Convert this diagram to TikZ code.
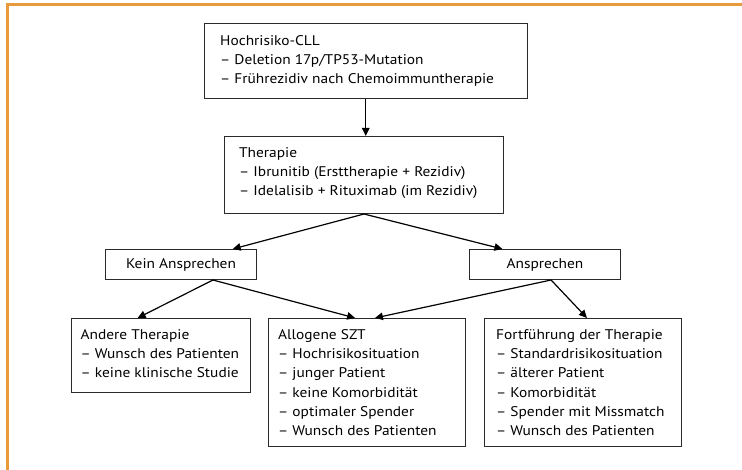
\documentclass[tikz,border=0pt]{standalone}
\usepackage{fontspec}
\setmainfont{PT Sans}[FakeStretch=1.1]
\usetikzlibrary{arrows.meta,calc}
\definecolor{frameorange}{HTML}{E99A3A}
\definecolor{boxline}{HTML}{2A2A2A}
\tikzset{
  box/.style={draw=boxline, line width=1pt, rectangle, anchor=north west, inner sep=0pt},
  txt/.style={anchor=west, align=left, inner sep=0pt, text=black,
    font=\fontsize{14}{19.3}\selectfont},
  conn/.style={draw=black, line width=1.2pt, -{Triangle[length=8pt,width=7.5pt]}}
}
\begin{document}
\begin{tikzpicture}[x=1pt,y=-1pt]
\useasboundingbox (0,0) rectangle (742,470);
\draw[frameorange, line width=3pt] (7.5,471) -- (7.5,5) -- (743,5);

\node[box, minimum width=323.5pt, minimum height=75pt] (b1) at (203.5,23) {};
\node[txt] (b1t) at ([xshift=16.5pt]b1.west)
  {Hochrisiko-CLL\\– Deletion 17p/TP53-Mutation\\– Frührezidiv nach Chemoimmuntherapie};
\node[box, minimum width=279pt, minimum height=77pt] (b2) at (224,136) {};
\node[txt] (b2t) at ([xshift=15pt,yshift=2pt]b2.west)
  {Therapie\\– Ibrunitib (Ersttherapie + Rezidiv)\\– Idelalisib + Rituximab (im Rezidiv)};
\node[box, minimum width=151pt, minimum height=30pt, font=\fontsize{14}{19.3}\selectfont] (kein) at (105,249)
  {Kein Ansprechen};
\node[box, minimum width=151pt, minimum height=30pt, font=\fontsize{14}{19.3}\selectfont] (ans) at (469,249)
  {Ansprechen};
\node[box, minimum width=179pt, minimum height=74pt] (left) at (71,318) {};
\node[txt] (leftt) at ([xshift=9.5pt,yshift=2pt]left.west)
  {Andere Therapie\\– Wunsch des Patienten\\– keine klinische Studie};
\node[box, minimum width=197pt, minimum height=128pt] (mid) at (268,318) {};
\node[txt] (midt) at ([xshift=10pt]mid.west)
  {Allogene SZT\\– Hochrisikosituation\\– junger Patient\\– keine Komorbidität\\– optimaler Spender\\– Wunsch des Patienten};
\node[box, minimum width=197pt, minimum height=128pt] (right) at (484,318) {};
\node[txt] (rightt) at ([xshift=12pt]right.west)
  {Fortführung der Therapie\\– Standardrisikosituation\\– älterer Patient\\– Komorbidität\\– Spender mit Missmatch\\– Wunsch des Patienten};

\draw[conn] (b1.south) -- (b1.south |- b2.north);
\draw[conn] (b2.south) -- ($(kein.north west)!0.84!(kein.north east)$);
\draw[conn] (b2.south) -- ($(ans.north west)!0.22!(ans.north east)$);
\draw[conn] ($(kein.south west)!0.71!(kein.south east)$) -- ($(left.north west)!0.37!(left.north east)$);
\draw[conn] ($(kein.south west)!0.71!(kein.south east)$) -- ($(mid.north west)!0.44!(mid.north east)$);
\draw[conn] ($(ans.south west)!0.54!(ans.south east)$) -- ($(mid.north west)!0.54!(mid.north east)$);
\draw[conn] ($(ans.south west)!0.54!(ans.south east)$) -- ($(right.north west)!0.52!(right.north east)$);
\end{tikzpicture}
\end{document}
